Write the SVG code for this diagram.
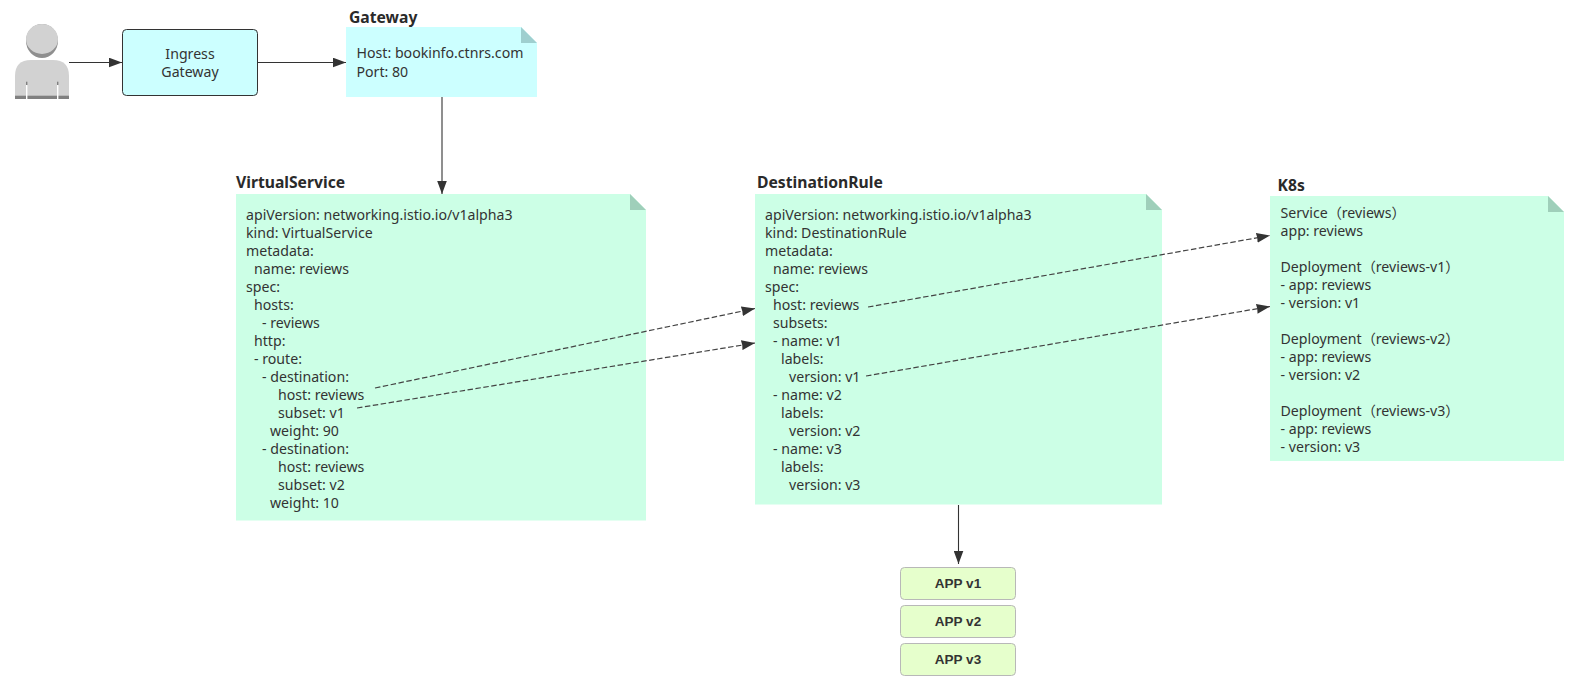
<svg xmlns="http://www.w3.org/2000/svg" width="1579" height="686" viewBox="0 0 1579 686">
<style>
text{font-family:"Noto Sans","Noto Sans CJK SC",sans-serif;font-size:14.15px;fill:#333}
.t{font-weight:700;font-size:15.7px;fill:#2a2a2a}
.a{font-family:"Liberation Sans",sans-serif;font-weight:700;font-size:13.5px;text-anchor:middle}
.c{text-anchor:middle}
.n{fill:#ccffe6}.g{fill:#ccffff}.f{fill:#9fcfba}.gf{fill:#9fcfcf}
.app{fill:#e6ffcc;stroke:#b8b8b8;stroke-width:1}
.l{fill:none;stroke:#333;stroke-width:1.1;marker-end:url(#ah)}
.d{stroke:#444;stroke-width:1.2;stroke-dasharray:5.5 2.5}
</style>
<defs><marker id="ah" markerUnits="userSpaceOnUse" markerWidth="14" markerHeight="10" refX="13.5" refY="5" orient="auto"><path d="M0,0L13.5,5L0,10L.6,5z" fill="#333"/></marker></defs>
<g id="user">
<path d="M15,99V76Q15,60 31,60H53Q69,60 69,76V99z" fill="#d2d2d2"/>
<rect x="15" y="95.7" width="54" height="3.3" fill="#808080"/>
<rect x="26" y="81.7" width="1.4" height="3.5" fill="#808080"/><rect x="57" y="81.7" width="1.4" height="3.5" fill="#808080"/>
<rect x="26" y="85" width="1.4" height="14" fill="#fff"/><rect x="57" y="85" width="1.4" height="14" fill="#fff"/>
<ellipse cx="42" cy="41" rx="16" ry="17" fill="#8f8f8f"/><ellipse cx="42" cy="39" rx="16" ry="15" fill="#d2d2d2"/>
</g>
<g id="ingress"><rect x="122.5" y="29.5" width="135" height="66" rx="4" fill="#ccffff" stroke="#333"/><text class="c" x="190" y="59">Ingress</text><text class="c" x="190" y="77">Gateway</text></g>
<g id="gateway"><text class="t" x="349" y="23">Gateway</text><path class="g" d="M346,27H521L537,43V97H346z"/><path class="gf" d="M521,27L537,43H521z"/><text x="356.5" y="58.3">Host: bookinfo.ctnrs.com</text><text x="356.5" y="76.5">Port: 80</text></g>
<g id="virtualservice"><text class="t" x="236" y="188">VirtualService</text><path class="n" d="M236,194H630L646,210V520.5H236z"/><path class="f" d="M630,194L646,210H630z"/>
<text x="246" y="219.5">apiVersion: networking.istio.io/v1alpha3</text>
<text x="246" y="237.5">kind: VirtualService</text>
<text x="246" y="255.5">metadata:</text>
<text x="254" y="273.5">name: reviews</text>
<text x="246" y="291.5">spec:</text>
<text x="254" y="309.5">hosts:</text>
<text x="262" y="327.5">- reviews</text>
<text x="254" y="345.5">http:</text>
<text x="254" y="363.5">- route:</text>
<text x="262" y="381.5">- destination:</text>
<text x="278" y="399.5">host: reviews</text>
<text x="278" y="417.5">subset: v1</text>
<text x="270" y="435.5">weight: 90</text>
<text x="262" y="453.5">- destination:</text>
<text x="278" y="471.5">host: reviews</text>
<text x="278" y="489.5">subset: v2</text>
<text x="270" y="507.5">weight: 10</text></g>
<g id="destinationrule"><text class="t" x="757" y="188">DestinationRule</text><path class="n" d="M755,194H1146L1162,210V504.5H755z"/><path class="f" d="M1146,194L1162,210H1146z"/>
<text x="765" y="219.5">apiVersion: networking.istio.io/v1alpha3</text>
<text x="765" y="237.5">kind: DestinationRule</text>
<text x="765" y="255.5">metadata:</text>
<text x="773" y="273.5">name: reviews</text>
<text x="765" y="291.5">spec:</text>
<text x="773" y="309.5">host: reviews</text>
<text x="773" y="327.5">subsets:</text>
<text x="773" y="345.5">- name: v1</text>
<text x="781" y="363.5">labels:</text>
<text x="789" y="381.5">version: v1</text>
<text x="773" y="399.5">- name: v2</text>
<text x="781" y="417.5">labels:</text>
<text x="789" y="435.5">version: v2</text>
<text x="773" y="453.5">- name: v3</text>
<text x="781" y="471.5">labels:</text>
<text x="789" y="489.5">version: v3</text></g>
<g id="k8s"><text class="t" x="1277.5" y="190.5">K8s</text><path class="n" d="M1270,196H1548L1564,212V461H1270z"/><path class="f" d="M1548,196L1564,212H1548z"/>
<text x="1280.5" y="217.7">Service（reviews）</text>
<text x="1280.5" y="235.7">app: reviews</text>
<text x="1280.5" y="271.7">Deployment（reviews-v1）</text>
<text x="1280.5" y="289.7">- app: reviews</text>
<text x="1280.5" y="307.7">- version: v1</text>
<text x="1280.5" y="343.7">Deployment（reviews-v2）</text>
<text x="1280.5" y="361.7">- app: reviews</text>
<text x="1280.5" y="379.7">- version: v2</text>
<text x="1280.5" y="415.7">Deployment（reviews-v3）</text>
<text x="1280.5" y="433.7">- app: reviews</text>
<text x="1280.5" y="451.7">- version: v3</text></g>
<g id="app-v1"><rect class="app" x="900.5" y="567.5" width="115" height="32" rx="4"/><text class="a" x="958" y="587.7">APP v1</text></g>
<g id="app-v2"><rect class="app" x="900.5" y="605.5" width="115" height="32" rx="4"/><text class="a" x="958" y="625.7">APP v2</text></g>
<g id="app-v3"><rect class="app" x="900.5" y="643.5" width="115" height="32" rx="4"/><text class="a" x="958" y="663.7">APP v3</text></g>
<g id="connectors">
<path class="l" d="M69,62.5H122"/>
<path class="l" d="M258,62.5H346"/>
<path class="l" d="M442,97V194"/>
<path class="l" d="M958.5,505V564"/>
<path class="l d" d="M375,388L755,308.5"/>
<path class="l d" d="M357,408L755,343"/>
<path class="l d" d="M868,307L1270,235.5"/>
<path class="l d" d="M866,376L1270,306.5"/>
</g>
</svg>
